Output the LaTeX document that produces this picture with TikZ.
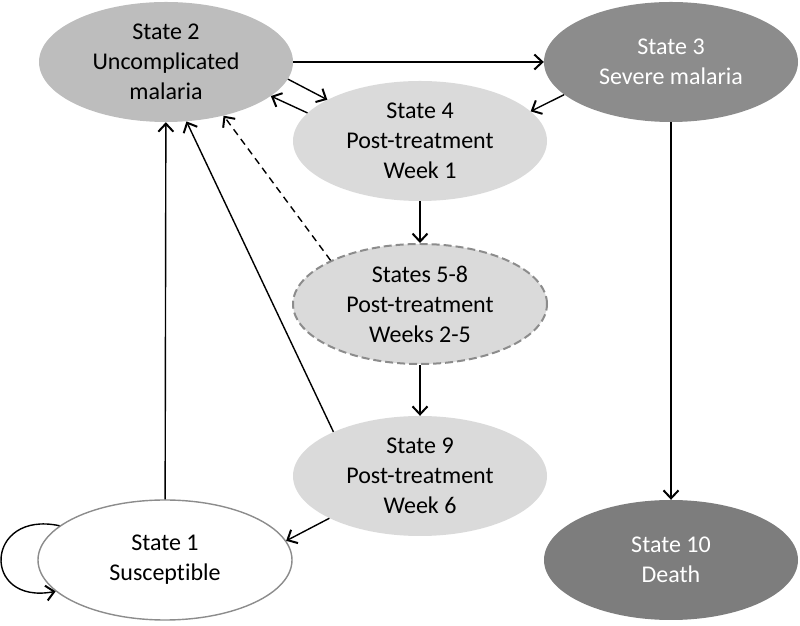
\documentclass[tikz,border=0pt]{standalone}
\usepackage{fontspec}
\setmainfont{Carlito}[Ligatures=NoCommon]
\usepackage{tikz}
\usetikzlibrary{arrows.meta,shapes.geometric}
\definecolor{uncgray}{gray}{0.74}
\definecolor{sevgray}{gray}{0.55}
\definecolor{postgray}{gray}{0.855}
\definecolor{deathgray}{gray}{0.49}
\definecolor{rimgray}{gray}{0.55}

\begin{document}
\begin{tikzpicture}[x=1pt,y=1pt,>={Straight Barb[length=8pt,width=15pt,line width=2pt]},
	state/.style={ellipse,inner sep=0pt,minimum width=254pt,minimum height=120pt,align=center,font=\fontsize{24}{30}\selectfont},
	flow/.style={->,line width=1.4pt}]
	\useasboundingbox (0,0) rectangle (800,626);
	\node [state,fill=uncgray] (s2) at (166,564) {State 2\\Uncomplicated\\malaria};
	\node [state,fill=sevgray,text=white] (s3) at (671,564) {State 3\\Severe malaria};
	\node [state,fill=postgray] (s4) at (420,485) {State 4\\Post-treatment\\Week 1};
	\node [state,fill=postgray,draw=rimgray,line width=2pt,dash pattern=on 8pt off 4pt] (s58) at (420,322) {States 5-8\\Post-treatment\\Weeks 2-5};
	\node [state,fill=postgray] (s9) at (420,150) {State 9\\Post-treatment\\Week 6};
	\node [state,fill=white,draw=rimgray,line width=1.4pt] (s1) at (165,66) {State 1\\Susceptible};
	\node [state,fill=deathgray,text=white] (s10) at (671,66) {State 10\\Death};
	% transitions
	\draw [flow] (s2) -- (s3);
	\draw [flow] (s2.-8) -- (s4.156);
	\draw [flow] (s4.166) -- (s2.-18);
	\draw [flow] (s3.197) -- (s4.15);
	\draw [flow] (s4) -- (s58);
	\draw [flow] (s58) -- (s9);
	\draw [flow] (s3) -- (s10);
	\draw [flow] (s9.205) -- (s1.9);
	\draw [flow] (s1) -- (s2);
	\draw [flow] (s9.153) -- (s2.-71);
	\draw [flow,dash pattern=on 7pt off 5pt] (s58.154) -- (s2.-43);
	\draw [flow] (s1.162) .. controls +(-75,16) and +(-75,-14) .. (s1.196);
\end{tikzpicture}
\end{document}
